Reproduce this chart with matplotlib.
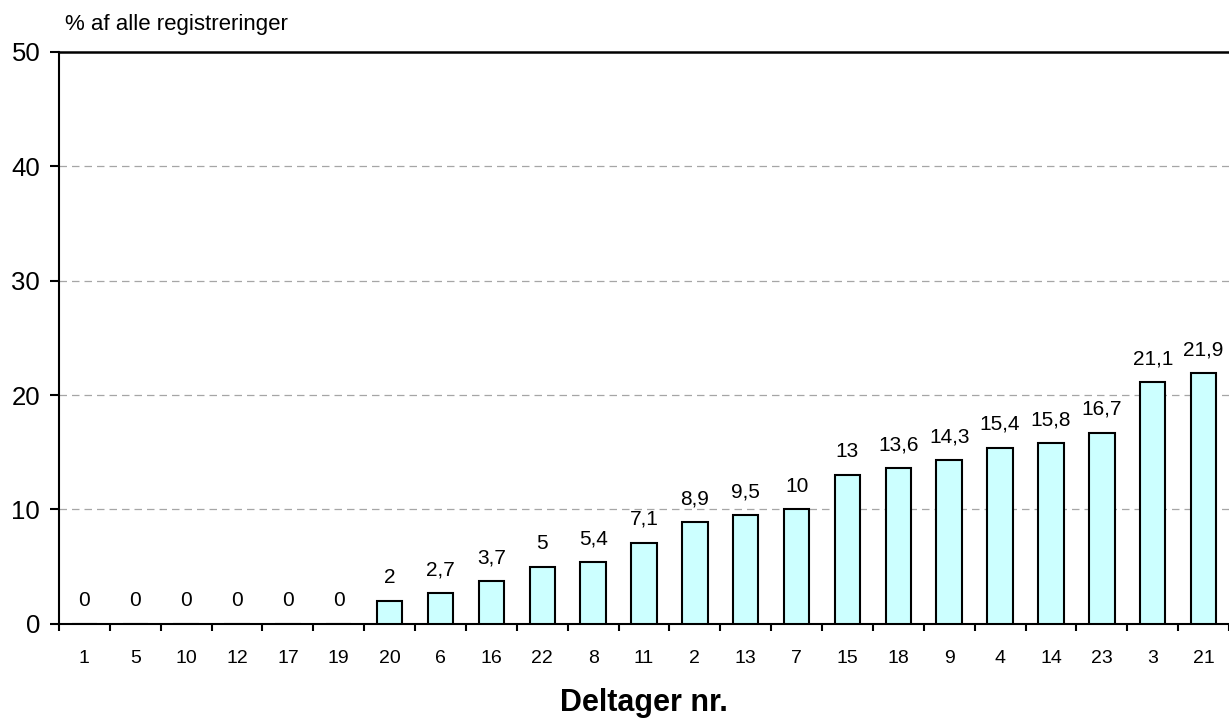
import matplotlib.pyplot as plt
import numpy as np

plt.rcParams['font.family'] = ['Liberation Sans', 'DejaVu Sans']

# data
participants = ['1', '5', '10', '12', '17', '19', '20', '6', '16', '22', '8', '11',
                '2', '13', '7', '15', '18', '9', '4', '14', '23', '3', '21']
percent = [0, 0, 0, 0, 0, 0, 2, 2.7, 3.7, 5, 5.4, 7.1,
           8.9, 9.5, 10, 13, 13.6, 14.3, 15.4, 15.8, 16.7, 21.1, 21.9]
yticks = [0, 10, 20, 30, 40, 50]


def fmt(v):
    # Danish decimal comma
    s = f"{v:g}"
    return s.replace('.', ',')


fig = plt.figure(figsize=(12.29, 7.22), dpi=100)
ax = fig.add_axes([0.048, 0.136, 0.952, 0.792])

x = np.arange(len(participants))
ax.bar(x, percent, width=0.5, color='#CCFFFF', edgecolor='black',
       linewidth=1.5, zorder=3)

for xi, v in zip(x, percent):
    ax.annotate(fmt(v), (xi, v), xytext=(0, 10), textcoords='offset points',
                ha='center', va='bottom', fontsize=15)

ax.set_xlim(-0.5, len(participants) - 0.5)
ax.set_ylim(0, 50)
ax.set_yticks(yticks)
ax.set_yticklabels([str(t) for t in yticks], fontsize=18.5)

ax.set_xticks(x)
ax.set_xticklabels(participants, fontsize=14)
ax.set_xticks(np.arange(len(participants) + 1) - 0.5, minor=True)
ax.tick_params(axis='x', which='major', length=0, pad=19)
ax.tick_params(axis='x', which='minor', length=5, width=1.5, direction='out')
ax.tick_params(axis='y', length=6.5, width=1.5, direction='out', pad=7)

for t in yticks[1:-1]:
    ax.axhline(t, color='#a6a6a6', linestyle=(0, (6, 4)), linewidth=0.9, zorder=1)
ax.axhline(50, color='black', linewidth=1.8, zorder=2, clip_on=False)

ax.spines['right'].set_visible(False)
ax.spines['top'].set_visible(False)
ax.spines['left'].set_linewidth(1.5)
ax.spines['bottom'].set_linewidth(1.5)

fig.text(0.053, 0.966, '% af alle registreringer', fontsize=16, ha='left', va='center')
fig.text(0.048 + 0.952 / 2, 0.0152, 'Deltager nr.', fontsize=22, fontweight='bold',
         ha='center', va='baseline')

fig.savefig('out.png', dpi=100)
